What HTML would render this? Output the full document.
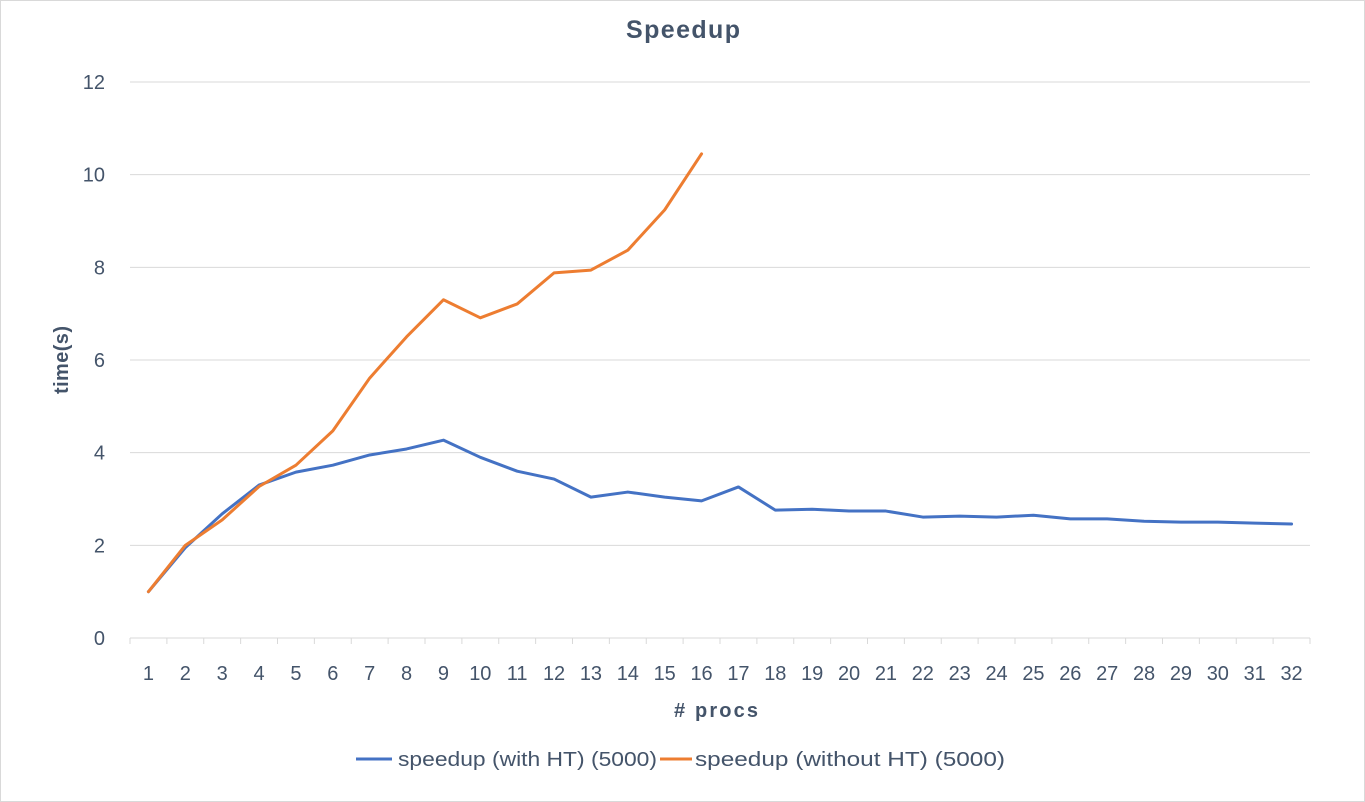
<!DOCTYPE html>
<html><head><meta charset="utf-8"><style>
html,body{margin:0;padding:0;background:#fff;}
svg{display:block;font-family:"Liberation Sans",sans-serif;}
</style></head><body>
<svg id="chart" width="1365" height="802">
<rect x="0.5" y="0.5" width="1364" height="801" fill="#fff" stroke="#d9d9d9"/>
<text x="683" y="38" text-anchor="middle" font-size="25" font-weight="bold" fill="#44546a" textLength="114">Speedup</text>
<g id="grid"></g><g id="axes"></g><g id="series"></g>
<text transform="translate(68,360) rotate(-90)" text-anchor="middle" font-size="20" font-weight="bold" fill="#44546a" textLength="68">time(s)</text>
<text x="716" y="717" text-anchor="middle" font-size="20" font-weight="bold" fill="#44546a" textLength="84"># procs</text>
<g>
<g>
<line x1="356" y1="759" x2="392" y2="759" stroke="#4472c4" stroke-width="3"/>
<text x="398" y="766" font-size="20" fill="#44546a" textLength="259" lengthAdjust="spacingAndGlyphs">speedup (with HT) (5000)</text></g>
<g>
<line x1="660" y1="759" x2="692" y2="759" stroke="#ed7d31" stroke-width="3"/>
<text x="695" y="766" font-size="20" fill="#44546a" textLength="310" lengthAdjust="spacingAndGlyphs">speedup (without HT) (5000)</text></g>
</g>
</svg>
<script>
const categories=[];for(let i=1;i<=32;i++)categories.push(String(i));
const withHT=[1.0,1.95,2.68,3.3,3.58,3.73,3.95,4.08,4.27,3.9,3.6,3.43,3.04,3.15,3.04,2.96,3.26,2.76,2.78,2.74,2.74,2.61,2.63,2.61,2.65,2.57,2.57,2.52,2.5,2.5,2.48,2.46];
const withoutHT=[1.0,2.0,2.55,3.27,3.73,4.47,5.61,6.5,7.3,6.91,7.21,7.88,7.94,8.37,9.24,10.45];
const yTicks=[0,2,4,6,8,10,12];
const NS="http://www.w3.org/2000/svg";
const x0=130,x1=1310,yb=638,yt=82,yMax=12;
const step=(x1-x0)/categories.length;
const xs=i=>x0+step*(i+0.5);
const ys=v=>yb-(v/yMax)*(yb-yt);
function mk(tag,attrs,parent){const e=document.createElementNS(NS,tag);for(const k in attrs)e.setAttribute(k,attrs[k]);parent.appendChild(e);return e;}
const grid=document.getElementById('grid'),axes=document.getElementById('axes'),ser=document.getElementById('series');
yTicks.forEach(t=>{
 if(t>0){const l=mk('line',{x1:x0,x2:x1,y1:ys(t),y2:ys(t),stroke:'#d9d9d9','stroke-width':1},grid);
 
 }
 const tx=mk('text',{x:105,y:ys(t)+7,'text-anchor':'end','font-size':20,fill:'#44546a'},axes);tx.textContent=t;
 
 
});
const ax=mk('line',{x1:x0,x2:x1,y1:yb,y2:yb,stroke:'#d9d9d9','stroke-width':1},axes);


for(let i=0;i<=categories.length;i++){const tk=mk('line',{x1:x0+step*i,x2:x0+step*i,y1:yb,y2:yb+6,stroke:'#d9d9d9'},axes);
 
 }
categories.forEach((c,i)=>{const tx=mk('text',{x:xs(i),y:680,'text-anchor':'middle','font-size':20,fill:'#44546a'},axes);tx.textContent=c;
 
 });
function line(data,color,name){const p=mk('polyline',{points:data.map((v,i)=>xs(i)+','+ys(v)).join(' '),fill:'none',stroke:color,'stroke-width':3,'stroke-linejoin':'round','stroke-linecap':'round'},ser);
 
 }
line(withHT,'#4472c4','series-with-ht');
line(withoutHT,'#ed7d31','series-without-ht');
</script>
</body></html>
